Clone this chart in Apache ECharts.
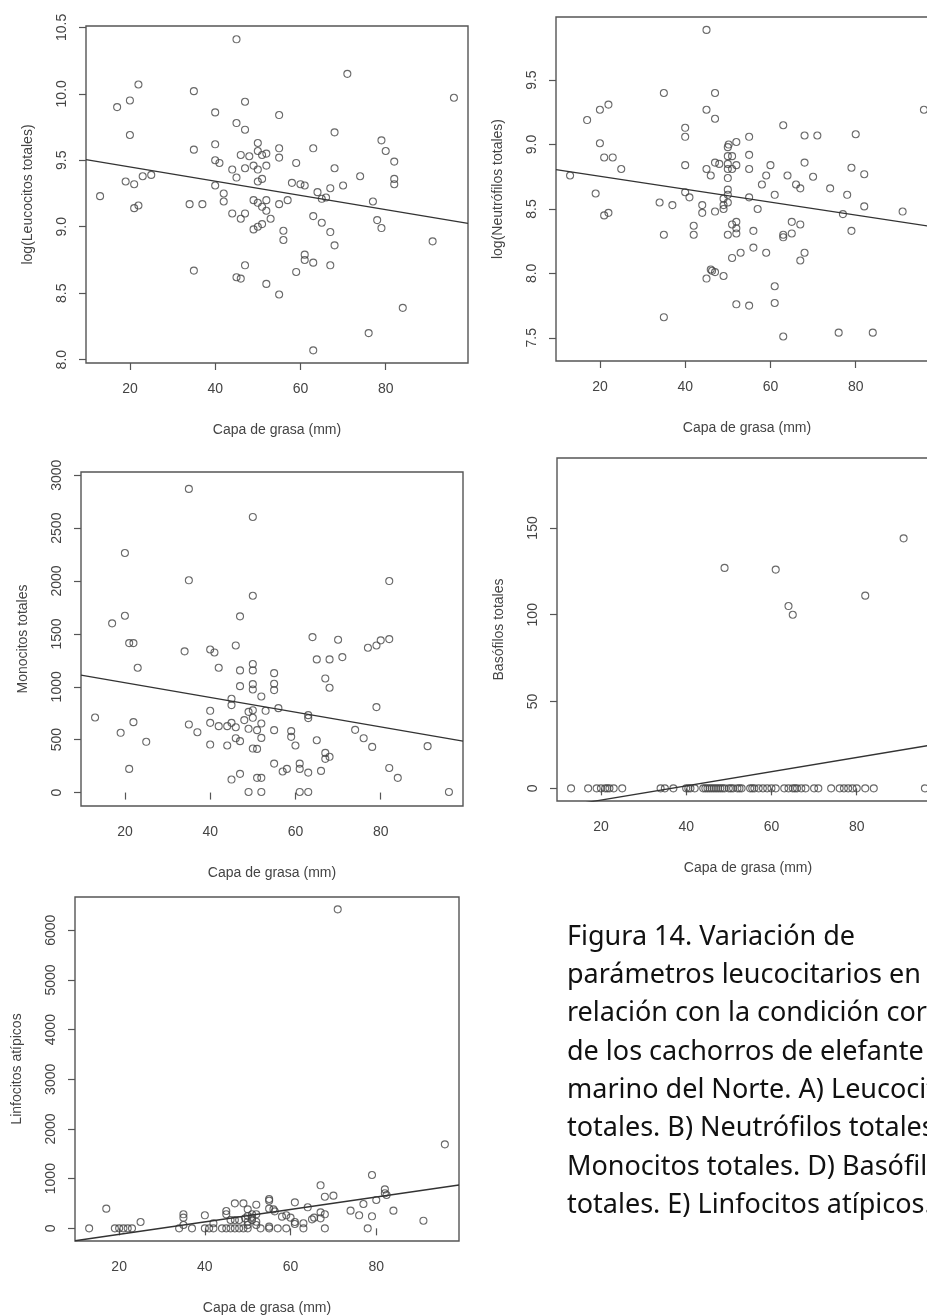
<!DOCTYPE html>
<html>
<head>
<meta charset="utf-8">
<script src="https://cdn.jsdelivr.net/npm/echarts@6/dist/echarts.min.js"></script>
<style>
  html, body { margin: 0; padding: 0; background: #fff; }
  #chart { width: 927px; height: 1315px; }
</style>
</head>
<body>
<div id="chart"></div>
<script>
// eje x comun: capa de grasa (mm)
var xTicks = [20, 40, 60, 80];
var xName = 'Capa de grasa (mm)';

// A) log(Leucocitos totales)
var leucoTicks = [8.0, 8.5, 9.0, 9.5, 10.0, 10.5];
var leucoPts = [
  [13, 9.23], [17, 9.90], [20, 9.95], [20, 9.69], [19, 9.34], [21, 9.32], [21, 9.14], [22, 9.16], [22, 10.07],
  [23, 9.38], [25, 9.39], [35, 10.02], [35, 9.58], [34, 9.17], [37, 9.17], [35, 8.67], [40, 9.86], [40, 9.62],
  [40, 9.50], [41, 9.48], [40, 9.31], [42, 9.25], [42, 9.19], [44, 9.43], [45, 9.37], [45, 10.41], [45, 9.78],
  [47, 9.94], [47, 9.73], [46, 9.54], [47, 9.44], [48, 9.53], [44, 9.10], [47, 9.10], [46, 9.06], [47, 8.71],
  [45, 8.62], [46, 8.61], [50, 9.63], [50, 9.57], [51, 9.54], [52, 9.55], [49, 9.46], [50, 9.43], [52, 9.46],
  [51, 9.36], [50, 9.34], [49, 9.20], [50, 9.18], [51, 9.15], [52, 9.20], [52, 9.12], [49, 8.98], [50, 9.00],
  [51, 9.02], [53, 9.06], [52, 8.57], [55, 9.84], [55, 9.59], [55, 9.52], [55, 9.17], [57, 9.20], [56, 8.97],
  [56, 8.90], [55, 8.49], [58, 9.33], [59, 9.48], [60, 9.32], [61, 9.31], [59, 8.66], [61, 8.79], [61, 8.75],
  [63, 8.73], [63, 9.59], [63, 9.08], [64, 9.26], [65, 9.21], [66, 9.22], [65, 9.03], [67, 9.29], [67, 8.96],
  [68, 9.71], [68, 9.44], [68, 8.86], [67, 8.71], [63, 8.07], [70, 9.31], [71, 10.15], [74, 9.38], [77, 9.19],
  [78, 9.05], [79, 8.99], [79, 9.65], [80, 9.57], [82, 9.49], [82, 9.36], [82, 9.32], [84, 8.39], [76, 8.20],
  [91, 8.89], [96, 9.97]
];
var leucoFit = [[9.7, 9.505], [99.3, 9.025]];

// B) log(Neutrofilos totales)
var neutroTicks = [7.5, 8.0, 8.5, 9.0, 9.5];
var neutroPts = [
  [13, 8.76], [17, 9.19], [20, 9.27], [22, 9.31], [20, 9.01], [21, 8.90], [23, 8.90], [25, 8.81], [19, 8.62],
  [21, 8.45], [22, 8.47], [35, 9.40], [34, 8.55], [37, 8.53], [35, 8.30], [35, 7.66], [40, 9.13], [40, 9.06],
  [40, 8.84], [40, 8.63], [41, 8.59], [42, 8.37], [42, 8.30], [44, 8.53], [44, 8.47], [45, 9.89], [45, 9.27],
  [47, 9.40], [47, 9.20], [45, 8.81], [46, 8.76], [47, 8.86], [48, 8.85], [47, 8.48], [46, 8.03], [46.3, 8.02],
  [47, 8.01], [45, 7.96], [49, 7.98], [50, 8.98], [50.2, 9.00], [52, 9.02], [50, 8.91], [51, 8.91], [50, 8.85],
  [52, 8.84], [50, 8.81], [51, 8.81], [50, 8.74], [50, 8.65], [50, 8.61], [49, 8.58], [50, 8.55], [49, 8.53],
  [49, 8.50], [51, 8.38], [52, 8.40], [52, 8.35], [52, 8.31], [50, 8.30], [51, 8.12], [53, 8.16], [52, 7.76],
  [55, 9.06], [55, 8.92], [55, 8.81], [55, 8.59], [56, 8.33], [56, 8.20], [55, 7.75], [57, 8.50], [58, 8.69],
  [59, 8.76], [60, 8.84], [59, 8.16], [61, 8.61], [61, 7.90], [61, 7.77], [63, 9.15], [63, 8.30], [63, 8.28],
  [63, 7.51], [64, 8.76], [65, 8.40], [65, 8.31], [66, 8.69], [67, 8.66], [67, 8.38], [67, 8.10], [68, 9.07],
  [68, 8.86], [68, 8.16], [70, 8.75], [71, 9.07], [74, 8.66], [77, 8.46], [78, 8.61], [79, 8.82], [79, 8.33],
  [80, 9.08], [82, 8.77], [82, 8.52], [76, 7.54], [84, 7.54], [91, 8.48], [96, 9.27]
];
var neutroFit = [[9.7, 8.806], [99.3, 8.356]];

// C) Monocitos totales
var monoTicks = [0, 500, 1000, 1500, 2000, 2500, 3000];
var monoPts = [
  [13, 710], [17, 1600], [20, 2265], [20, 1672], [21, 1413], [22, 1413], [23, 1180], [19, 565], [22, 666],
  [21, 224], [25, 480], [35, 2871], [35, 2007], [34, 1335], [35, 644], [37, 571], [40, 1353], [41, 1325],
  [42, 1180], [40, 773], [40, 659], [42, 628], [40, 454], [44, 628], [44, 445], [45, 887], [45, 827], [45, 659],
  [46, 1391], [47, 1666], [47, 1155], [47, 1006], [46, 618], [46, 514], [47, 486], [45, 123], [47, 177], [49, 6],
  [50, 2606], [50, 1861], [50, 1215], [50, 1155], [50, 1025], [50, 975], [48, 685], [49, 763], [50, 779],
  [50, 707], [49, 603], [51, 590], [50, 416], [51, 413], [51, 139], [52, 139], [52, 6], [52, 653], [52, 517],
  [52, 909], [53, 773], [55, 1129], [55, 1029], [55, 969], [55, 590], [55, 274], [56, 798], [58, 224],
  [57, 199], [59, 581], [59, 527], [60, 445], [61, 274], [61, 224], [61, 6], [63, 6], [63, 189], [63, 732],
  [63, 704], [64, 1470], [65, 1259], [65, 495], [66, 205], [67, 1079], [67, 375], [67, 319], [68, 1259],
  [68, 991], [68, 338], [70, 1445], [71, 1281], [74, 593], [76, 514], [77, 1369], [79, 1391], [80, 1439],
  [82, 1451], [82, 2000], [79, 808], [78, 432], [82, 233], [84, 139], [91, 439], [96, 6]
];
var monoFit = [[9.7, 1110], [99.3, 487]];

// D) Basofilos totales
var basoTicks = [0, 50, 100, 150];
var basoPts = [
  [49, 127], [61, 126], [64, 105], [65, 100], [82, 111], [91, 144],
  [13, 0], [17, 0], [19, 0], [20, 0], [21, 0], [21.5, 0], [22, 0], [23, 0], [25, 0], [34, 0], [35, 0], [37, 0],
  [40, 0], [40.5, 0], [41, 0], [42, 0], [44, 0], [44.5, 0], [45, 0], [45.5, 0], [46, 0], [46.5, 0], [47, 0],
  [47.5, 0], [48, 0], [48.5, 0], [49, 0], [50, 0], [50.5, 0], [51, 0], [52, 0], [52.5, 0], [53, 0], [55, 0],
  [55.5, 0], [56, 0], [57, 0], [58, 0], [59, 0], [60, 0], [61, 0], [63, 0], [64, 0], [65, 0], [65.5, 0],
  [66, 0], [67, 0], [68, 0], [70, 0], [71, 0], [74, 0], [76, 0], [77, 0], [78, 0], [79, 0], [80, 0], [82, 0],
  [84, 0], [96, 0]
];
var basoFit = [[9.7, -11.0], [99.3, 25.7]];

// E) Linfocitos atipicos
var linfoTicks = [0, 1000, 2000, 3000, 4000, 5000, 6000];
var linfoPts = [
  [71, 6421], [96, 1691], [79, 1074], [67, 866], [82, 705], [82, 785], [82.4, 671], [80, 570], [70, 658],
  [68, 637], [77, 490], [74, 356], [84, 356], [76, 262], [79, 242], [91, 154], [78, 0], [68, 0], [67, 322],
  [68, 282], [67, 201], [65, 181], [65.5, 215], [64, 423], [61, 523], [61, 127], [61, 87], [59, 262], [60, 215],
  [58, 235], [63, 101], [63, 0], [59, 0], [57, 0], [55, 590], [55, 557], [55, 396], [56, 382], [56.3, 342],
  [55, 0], [55, 34], [52, 476], [52, 282], [52, 134], [52, 67], [53, 0], [51, 282], [51, 215], [51, 168],
  [50, 382], [50, 248], [50, 134], [50, 67], [50, 0], [49, 503], [49.4, 201], [48, 168], [47, 503], [47, 168],
  [47, 0], [46, 168], [45, 349], [45, 282], [45, 0], [44, 0], [46, 0], [48, 0], [49, 0], [42, 101], [42, 0],
  [41, 0], [40, 262], [40, 0], [35, 282], [35, 215], [35, 67], [34, 0], [37, 0], [25, 127], [17, 396], [13, 0],
  [19, 0], [20, 0], [21, 0], [22, 0], [23, 0]
];
var linfoFit = [[9.7, -250], [99.3, 872]];

var panels = [
  { box: [86, 26, 382, 337], y: [7.975, 10.51], ticks: leucoTicks, dec: 1, name: 'log(Leucocitos totales)', pts: leucoPts, fit: leucoFit },
  { box: [556, 17, 382, 344], y: [7.32, 9.99], ticks: neutroTicks, dec: 1, name: 'log(Neutrófilos totales)', pts: neutroPts, fit: neutroFit },
  { box: [81, 472, 382, 334], y: [-127, 3031], ticks: monoTicks, dec: 0, name: 'Monocitos totales', pts: monoPts, fit: monoFit },
  { box: [557, 458, 382, 343], y: [-7.3, 190.3], ticks: basoTicks, dec: 0, name: 'Basófilos totales', pts: basoPts, fit: basoFit },
  { box: [75, 897, 384, 344], y: [-255, 6670], ticks: linfoTicks, dec: 0, name: 'Linfocitos atípicos', pts: linfoPts, fit: linfoFit }
];

var captionLines = [
  'Figura 14. Variación de',
  'parámetros leucocitarios en',
  'relación con la condición corporal',
  'de los cachorros de elefante',
  'marino del Norte. A) Leucocitos',
  'totales. B) Neutrófilos totales. C)',
  'Monocitos totales. D) Basófilos',
  'totales. E) Linfocitos atípicos.'
];

var ink = '#444';
var labelFont = 'Liberation Sans';
var grids = [], xAxes = [], yAxes = [], series = [];

panels.forEach(function (p, i) {
  grids.push({
    left: p.box[0], top: p.box[1], width: p.box[2], height: p.box[3],
    show: true, borderColor: '#555', borderWidth: 1.4, backgroundColor: 'transparent',
    containLabel: false, outerBoundsMode: 'none'
  });
  xAxes.push({
    gridIndex: i, type: 'value', min: 9.7, max: 99.3,
    name: xName, nameLocation: 'middle', nameGap: 60,
    nameTextStyle: { color: ink, fontFamily: labelFont, fontSize: 14 },
    axisLine: { show: false },
    axisTick: { show: true, length: 7, inside: false, customValues: xTicks, lineStyle: { color: '#555', width: 1.2 } },
    axisLabel: { customValues: xTicks, margin: 19, color: ink, fontFamily: labelFont, fontSize: 14 },
    splitLine: { show: false }
  });
  yAxes.push({
    gridIndex: i, type: 'value', min: p.y[0], max: p.y[1],
    name: p.name, nameLocation: 'middle', nameGap: 51,
    nameTextStyle: { color: ink, fontFamily: labelFont, fontSize: 14 },
    axisLine: { show: false },
    axisTick: { show: true, length: 7, inside: false, customValues: p.ticks, lineStyle: { color: '#555', width: 1.2 } },
    axisLabel: {
      customValues: p.ticks, rotate: 90, margin: 17, color: ink, fontFamily: labelFont, fontSize: 14,
      formatter: function (v) { return Number(v).toFixed(p.dec); }
    },
    splitLine: { show: false }
  });
  series.push({
    type: 'scatter', xAxisIndex: i, yAxisIndex: i, data: p.pts,
    symbol: 'circle', symbolSize: 7, silent: true,
    itemStyle: { color: 'transparent', borderColor: ink, borderWidth: 1.1 }
  });
  series.push({
    type: 'line', xAxisIndex: i, yAxisIndex: i, data: p.fit, clip: true,
    showSymbol: false, silent: true,
    lineStyle: { color: '#333', width: 1.3 }
  });
});

var chart = echarts.init(document.getElementById('chart'));
chart.setOption({
  animation: false,
  backgroundColor: '#fff',
  grid: grids,
  xAxis: xAxes,
  yAxis: yAxes,
  series: series,
  graphic: [{
    type: 'text', left: 567, top: 918, silent: true,
    style: {
      text: captionLines.join('\n'),
      font: '27px "Noto Sans"',
      lineHeight: 38.3,
      fill: '#111'
    }
  }]
});
</script>
</body>
</html>
